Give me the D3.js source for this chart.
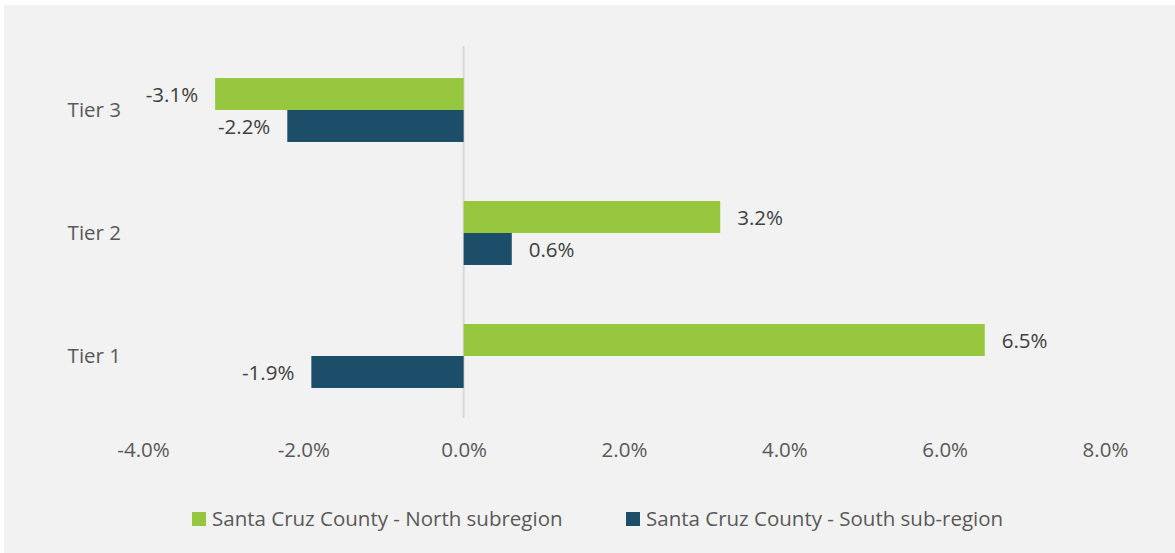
<!DOCTYPE html>
<html>
<head>
<meta charset="utf-8">
<script src="https://cdn.jsdelivr.net/npm/d3@7"></script>
<style>
  html, body { margin: 0; padding: 0; background: #ffffff; }
  svg { display: block; }
  text { font-family: "Open Sans", sans-serif; }
</style>
</head>
<body>
<svg id="chart" width="1175" height="553"></svg>
<script>
// Categories (top to bottom) and series values, in percent
const categories = ["Tier 3", "Tier 2", "Tier 1"];
const seriesNames = ["Santa Cruz County - North subregion", "Santa Cruz County - South sub-region"];
const northValues = [-3.1, 3.2, 6.5];
const southValues = [-2.2, 0.6, -1.9];
const tickValues = [-4, -2, 0, 2, 4, 6, 8];
const seriesColors = ["#97c73e", "#1d4e69"];

const W = 1175, H = 553;
const FS = 20.5;
const svg = d3.select("#chart");

// chart panel background
svg.append("rect")
  .attr("x", 4).attr("y", 5)
  .attr("width", W - 4).attr("height", H - 5)
  .attr("fill", "#f2f2f2");

const x = d3.scaleLinear().domain([-4, 8]).range([143, 1105]);
const y = d3.scaleBand().domain(categories).range([48.5, 417.5]).paddingInner(0.48).paddingOuter(0.24);
const ySub = d3.scaleBand().domain([0, 1]).range([0, y.bandwidth()]);

const fmt = v => v.toFixed(1) + "%";

// zero line
svg.append("line")
  .attr("x1", x(0)).attr("x2", x(0))
  .attr("y1", 46).attr("y2", 418)
  .attr("stroke", "#d9d9d9").attr("stroke-width", 2);

const series = [northValues, southValues];
series.forEach((vals, si) => {
  const g = svg.append("g");
  g.selectAll("rect").data(categories).join("rect")
    .attr("x", (c, i) => x(Math.min(0, vals[i])))
    .attr("y", c => y(c) + ySub(si))
    .attr("width", (c, i) => Math.abs(x(vals[i]) - x(0)))
    .attr("height", ySub.bandwidth())
    .attr("fill", seriesColors[si]);
  g.selectAll("text").data(categories).join("text")
    .attr("x", (c, i) => vals[i] < 0 ? x(vals[i]) - 17 : x(vals[i]) + 17)
    .attr("y", c => y(c) + ySub(si) + ySub.bandwidth() / 2 + 1)
    .attr("dy", "0.35em")
    .attr("text-anchor", (c, i) => vals[i] < 0 ? "end" : "start")
    .attr("font-size", FS)
    .attr("fill", "#404040")
    .text((c, i) => fmt(vals[i]));
});

// category axis labels
svg.append("g").selectAll("text").data(categories).join("text")
  .attr("x", 121)
  .attr("y", c => y(c) + y.bandwidth() / 2)
  .attr("dy", "0.35em")
  .attr("text-anchor", "end")
  .attr("font-size", FS)
  .attr("fill", "#595959")
  .text(c => c);

// value axis labels
const xAxis = d3.axisBottom(x).tickValues(tickValues).tickSize(0).tickPadding(0)
  .tickFormat(v => v.toFixed(1) + "%");
const ax = svg.append("g").attr("transform", "translate(0,450)").call(xAxis);
ax.select(".domain").remove();
ax.selectAll("text")
  .attr("y", 0).attr("dy", "0.35em")
  .attr("font-size", FS)
  .attr("font-family", null)
  .attr("fill", "#595959");

// legend
const legendX = [192, 626];
const lg = svg.append("g");
seriesNames.forEach((name, i) => {
  lg.append("rect")
    .attr("x", legendX[i]).attr("y", 512)
    .attr("width", 14).attr("height", 14)
    .attr("fill", seriesColors[i]);
  lg.append("text")
    .attr("x", legendX[i] + 20).attr("y", 519)
    .attr("dy", "0.35em")
    .attr("font-size", FS)
    .attr("fill", "#595959")
    .text(name);
});
</script>
</body>
</html>
